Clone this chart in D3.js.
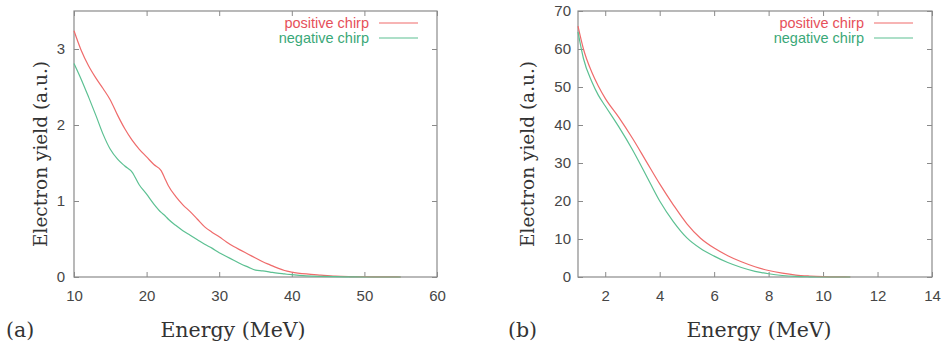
<!DOCTYPE html>
<html>
<head>
<meta charset="utf-8">
<script src="https://cdn.jsdelivr.net/npm/d3@7"></script>
<style>
  body { margin: 0; background: #fff; }
  svg { display: block; }
  .tick text { font-family: "Liberation Sans", Arial, sans-serif; font-size: 15px; fill: #464646; }
  .tick line { stroke: #8a8a8a; }
  .axis-title { font-family: "DejaVu Serif", serif; fill: #333; }
  .legend text { font-family: "Liberation Sans", Arial, sans-serif; font-size: 14.5px; }
</style>
</head>
<body>
<div id="chart"></div>
<script>
// panel (a): energy grid and yields
const energyA = [10, 11, 12, 13, 14, 15, 16, 17, 18, 19, 20, 21, 22, 22.6, 23, 24, 25, 26, 27, 28, 29, 30,
                 31, 32, 33, 34, 35, 36, 37, 38, 39, 40, 42, 44, 46, 48, 50, 52, 55];
const positiveA = [3.24, 2.98, 2.78, 2.62, 2.48, 2.33, 2.13, 1.95, 1.80, 1.68, 1.58, 1.48, 1.40, 1.28, 1.20, 1.06, 0.95, 0.86, 0.76, 0.66, 0.59, 0.53,
                   0.46, 0.40, 0.35, 0.30, 0.25, 0.20, 0.16, 0.12, 0.085, 0.065, 0.04, 0.025, 0.012, 0.006, 0.003, 0.002, 0];
const negativeA = [2.81, 2.60, 2.37, 2.13, 1.88, 1.68, 1.55, 1.46, 1.38, 1.21, 1.09, 0.96, 0.85, 0.80, 0.76, 0.68, 0.61, 0.55, 0.49, 0.43, 0.38, 0.32,
                   0.27, 0.22, 0.17, 0.13, 0.09, 0.08, 0.065, 0.05, 0.04, 0.03, 0.015, 0.008, 0.004, 0.002, 0, 0, 0];

// panel (b)
const energyB = [1, 1.2, 1.5, 1.75, 2, 2.5, 3, 3.5, 4, 4.5, 5, 5.5, 6, 6.5, 7, 7.5, 8, 8.5, 9, 9.5, 10, 10.5, 11];
const positiveB = [66, 60, 54, 50.2, 47, 42, 36.5, 30.5, 24.5, 19, 14, 10.2, 7.6, 5.6, 4.0, 2.7, 1.7, 1.0, 0.5, 0.25, 0.1, 0.03, 0];
const negativeB = [64.5, 57.5, 51.5, 47.8, 45, 39.5, 33.5, 26.8, 20, 14.6, 10.3, 7.5, 5.5, 3.8, 2.5, 1.5, 0.85, 0.4, 0.15, 0.05, 0, 0, 0];

const xTicksA = [10, 20, 30, 40, 50, 60];
const yTicksA = [0, 1, 2, 3];
const xTicksB = [2, 4, 6, 8, 10, 12, 14];
const yTicksB = [0, 10, 20, 30, 40, 50, 60, 70];

const seriesNames = ["positive chirp", "negative chirp"];
const lineColors = ["#ef6b6b", "#5cc092"];
const textColors = ["#e6505a", "#3aa878"];

const width = 946, height = 348;
const svg = d3.select("#chart").append("svg")
    .attr("width", width)
    .attr("height", height);

function drawPanel(p) {
    const g = svg.append("g");
    const x = d3.scaleLinear().domain(p.xDomain).range([p.left, p.right]);
    const y = d3.scaleLinear().domain(p.yDomain).range([p.bottom, p.top]);
    const fmt = d3.format("d");

    // inward ticks on all four sides (gnuplot look)
    g.append("g")
        .attr("transform", `translate(0,${p.bottom})`)
        .call(d3.axisBottom(x).tickValues(p.xTicks).tickFormat(fmt).tickSizeInner(-5).tickSizeOuter(0).tickPadding(13))
        .call(a => a.select(".domain").remove());
    g.append("g")
        .attr("transform", `translate(0,${p.top})`)
        .call(d3.axisTop(x).tickValues(p.xTicks).tickSizeInner(-5).tickSizeOuter(0).tickFormat(""))
        .call(a => a.select(".domain").remove());
    g.append("g")
        .attr("transform", `translate(${p.left},0)`)
        .call(d3.axisLeft(y).tickValues(p.yTicks).tickFormat(fmt).tickSizeInner(-5).tickSizeOuter(0).tickPadding(p.yPad))
        .call(a => a.select(".domain").remove());
    g.append("g")
        .attr("transform", `translate(${p.right},0)`)
        .call(d3.axisRight(y).tickValues(p.yTicks).tickSizeInner(-5).tickSizeOuter(0).tickFormat(""))
        .call(a => a.select(".domain").remove());

    g.append("rect")
        .attr("x", p.left).attr("y", p.top)
        .attr("width", p.right - p.left).attr("height", p.bottom - p.top)
        .attr("fill", "none")
        .attr("stroke", "#8a8a8a")
        .attr("stroke-width", 1.2);

    const line = d3.line()
        .x(d => x(d[0]))
        .y(d => y(d[1]))
        .curve(d3.curveMonotoneX);

    [p.positive, p.negative].forEach((vals, i) => {
        const pts = p.energy.map((e, k) => [e, vals[k]]);
        g.append("path")
            .datum(pts)
            .attr("d", line)
            .attr("fill", "none")
            .attr("stroke", lineColors[i])
            .attr("stroke-width", 1.2);
    });

    // legend
    const leg = g.append("g").attr("class", "legend");
    seriesNames.forEach((name, i) => {
        const ly = 23 + i * 15;
        leg.append("text")
            .attr("x", p.right - 68)
            .attr("y", ly + 5)
            .attr("text-anchor", "end")
            .attr("fill", textColors[i])
            .text(name);
        leg.append("line")
            .attr("x1", p.right - 58).attr("x2", p.right - 19)
            .attr("y1", ly).attr("y2", ly)
            .attr("stroke", lineColors[i])
            .attr("stroke-width", 1.2);
    });

    g.append("text")
        .attr("class", "axis-title")
        .attr("x", p.xTitleX)
        .attr("y", 337)
        .attr("text-anchor", "middle")
        .style("font-size", "20.5px")
        .text("Energy (MeV)");

    g.append("text")
        .attr("class", "axis-title")
        .attr("transform", `translate(${p.yTitleX},154) rotate(-90)`)
        .attr("text-anchor", "middle")
        .style("font-size", "18.5px")
        .text("Electron yield (a.u.)");

    g.append("text")
        .attr("class", "axis-title")
        .attr("x", p.tagX)
        .attr("y", 337)
        .style("font-size", "20.5px")
        .text(p.tag);
}

drawPanel({
    left: 74, right: 437, top: 11, bottom: 277,
    xDomain: [10, 60], yDomain: [0, 3.5],
    xTicks: xTicksA, yTicks: yTicksA, yPad: 9,
    energy: energyA, positive: positiveA, negative: negativeA,
    xTitleX: 233, yTitleX: 47, tagX: 6, tag: "(a)"
});

drawPanel({
    left: 578, right: 932, top: 11, bottom: 277,
    xDomain: [1, 14], yDomain: [0, 70],
    xTicks: xTicksB, yTicks: yTicksB, yPad: 7,
    energy: energyB, positive: positiveB, negative: negativeB,
    xTitleX: 759, yTitleX: 534, tagX: 508, tag: "(b)"
});
</script>
</body>
</html>
